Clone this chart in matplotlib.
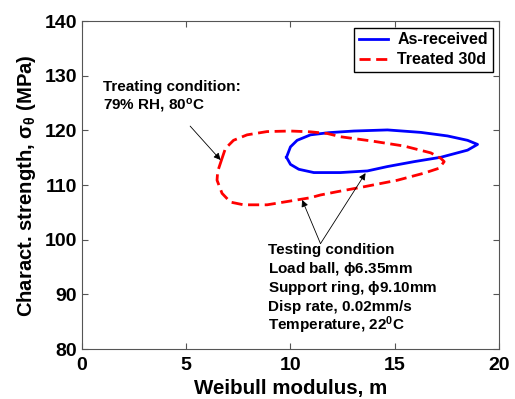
import matplotlib
matplotlib.use('Agg')
import matplotlib.pyplot as plt

# contour of the as-received fit (Weibull modulus, characteristic strength)
blue_m = [9.81, 10.0, 10.32, 10.96, 11.84, 13.04, 14.65, 16.25, 17.53, 18.49, 18.97,
          18.49, 17.21, 15.93, 14.65, 13.69, 12.4, 11.12, 10.4, 10.0, 9.81]
blue_s = [115.1, 117.0, 118.2, 119.2, 119.6, 119.9, 120.1, 119.65, 119.0, 118.2, 117.45,
          116.4, 115.1, 114.3, 113.4, 112.6, 112.3, 112.3, 112.9, 113.8, 115.1]

# contour of the treated 30d fit
red_m = [6.72, 6.51, 6.48, 6.72, 7.12, 7.75, 8.88, 10.0, 10.96, 11.44, 12.24, 13.52,
         15.13, 16.41, 17.13, 17.37, 17.21, 16.73, 15.45, 13.85, 12.4, 11.76, 10.96,
         10.0, 8.88, 7.92, 7.27, 6.88, 6.72]
red_s = [114.9, 112.5, 110.9, 108.5, 106.9, 106.4, 106.4, 107.1, 107.7, 108.2, 108.8,
         109.7, 110.9, 112.2, 113.1, 114.3, 114.9, 115.9, 117.15, 118.1, 118.85, 119.45,
         119.75, 119.9, 119.8, 119.2, 118.2, 116.7, 114.9]

xticks = [0, 5, 10, 15, 20]
yticks = [80, 90, 100, 110, 120, 130, 140]

treating_lines = ['Treating condition:', '79% RH, 80$^\\mathrm{o}$C']
testing_lines = ['Testing condition', 'Load ball, $\\phi$6.35mm',
                 'Support ring, $\\phi$9.10mm', 'Disp rate, 0.02mm/s',
                 'Temperature, 22$^\\mathrm{0}$C']

plt.rcParams['font.family'] = ['Liberation Sans', 'DejaVu Sans']
plt.rcParams['font.weight'] = 'bold'
plt.rcParams['mathtext.fontset'] = 'custom'
plt.rcParams['mathtext.rm'] = 'Liberation Sans:bold'
plt.rcParams['mathtext.it'] = 'Liberation Sans:bold'
plt.rcParams['mathtext.bf'] = 'Liberation Sans:bold'

fig = plt.figure(figsize=(5.15, 3.99), dpi=100)
ax = fig.add_axes([0.159, 0.125, 0.81, 0.822])

ax.plot(blue_m, blue_s, color='blue', lw=2, label='As-received')
ax.plot(red_m, red_s, color='red', lw=2, ls=(0, (4, 2)), label='Treated 30d')

ax.set_xlim(0, 20)
ax.set_ylim(80, 140)
ax.set_xticks(xticks)
ax.set_yticks(yticks)
ax.tick_params(direction='in', top=True, right=True, labelsize=14, length=4,
               color='#555555')
ax.tick_params(axis='x', pad=6)
for t in ax.get_xticklabels() + ax.get_yticklabels():
    t.set_fontweight('bold')
for s in ax.spines.values():
    s.set_color('#555555')

ax.set_xlabel('Weibull modulus, m', fontsize=14.8, fontweight='bold', labelpad=3)
ax.set_ylabel(r'Charact. strength, $\sigma_\theta$ (MPa)', fontsize=14.6,
              fontweight='bold', labelpad=5)

leg = ax.legend(loc='upper right', fontsize=11.5, handlelength=1.8,
                handletextpad=0.6, fancybox=False, framealpha=1, edgecolor='black',
                borderpad=0.3, labelspacing=0.3, borderaxespad=0.4)
for t in leg.get_texts():
    t.set_fontweight('bold')

ann_kw = dict(arrowstyle='-|>', color='black', lw=0.6, mutation_scale=10,
              shrinkA=0, shrinkB=0)

# treating condition note and its arrow
for i, line in enumerate(treating_lines):
    ax.text(1.0, 127.3 - 3.6 * i, line, fontsize=11, fontweight='bold',
            va='baseline', ha='left')
ax.annotate('', xy=(6.65, 114.6), xytext=(5.19, 120.8), arrowprops=ann_kw)

# testing condition note and its two arrows
for i, line in enumerate(testing_lines):
    ax.text(8.94, 97.4 - 3.47 * i, line, fontsize=11, fontweight='bold',
            va='baseline', ha='left')
ax.annotate('', xy=(10.56, 107.3), xytext=(11.44, 99.3), arrowprops=ann_kw)
ax.annotate('', xy=(13.6, 112.2), xytext=(11.44, 99.3), arrowprops=ann_kw)

fig.savefig('out.png', dpi=100)
